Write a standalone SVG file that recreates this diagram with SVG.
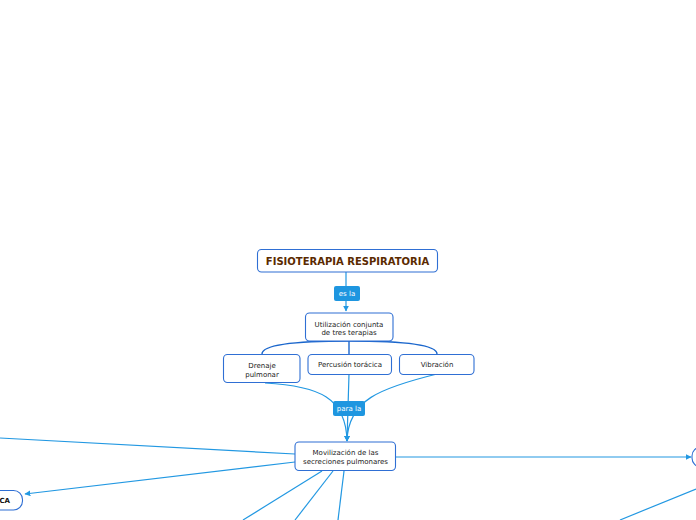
<svg xmlns="http://www.w3.org/2000/svg" width="696" height="520" viewBox="0 0 696 520">
<defs>
<style>
.box{fill:#fff;stroke:#2f6fd4;stroke-width:1.1}
.t{font-family:"DejaVu Sans",Verdana,sans-serif;font-size:7px;fill:#1a1a1a;text-anchor:middle}
.title{font-family:"DejaVu Sans",Verdana,sans-serif;font-size:10px;font-weight:bold;fill:#5a2a00;text-anchor:middle}
.lbl{fill:#1e96e0}
.lt{font-family:"DejaVu Sans",Verdana,sans-serif;font-size:7px;fill:#fff;text-anchor:middle}
.c{fill:none;stroke:#2298e2;stroke-width:1.2}
.b{fill:none;stroke:#1a66cc;stroke-width:1.4}
</style>
<marker id="ar" viewBox="0 0 10 10" refX="9" refY="5" markerWidth="6" markerHeight="6" orient="auto" markerUnits="userSpaceOnUse">
<path d="M0,0 L10,5 L0,10 z" fill="#2298e2"/>
</marker>
</defs>
<rect width="696" height="520" fill="#fff"/>
<g id="connectors">
<path class="c" d="M346,272 L346,311" marker-end="url(#ar)"/>
<path class="b" d="M349,341 C300,341 262,344 262,354"/>
<path class="b" d="M349,341 L349,354"/>
<path class="b" d="M349,341 C398,341 437,344 437,354"/>
<path class="c" d="M265,383 C320,386 346,398 347,441" marker-end="url(#ar)"/>
<path class="c" d="M349,374 L347,441" marker-end="url(#ar)"/>
<path class="c" d="M437,374 C380,388 348,400 347,441" marker-end="url(#ar)"/>
<path class="c" d="M295,454 L0,438"/>
<path class="c" d="M295,462 L25,494" marker-end="url(#ar)"/>
<path class="c" d="M395,457 L691,457" marker-end="url(#ar)"/>
<path class="c" d="M322,471 L243,520"/>
<path class="c" d="M333,471 L295,520"/>
<path class="c" d="M344,471 L338,520"/>
<path class="c" d="M696,489 L620,520"/>
</g>
<g id="lbl-esla">
<rect class="lbl" x="334" y="286" width="26" height="15" rx="2"/>
<text class="lt" x="347" y="295.5">es la</text>
</g>
<g id="lbl-parala">
<rect class="lbl" x="333" y="401" width="32" height="15" rx="2"/>
<text class="lt" x="349" y="410.5">para la</text>
</g>
<g id="n-title">
<rect class="box" x="257.5" y="249.5" width="180" height="22.5" rx="4"/>
<text class="title" x="347.5" y="264.5">FISIOTERAPIA RESPIRATORIA</text>
</g>
<g id="n-utilizacion">
<rect class="box" x="305.5" y="313" width="87.5" height="28" rx="4"/>
<text class="t" x="349" y="326.5">Utilización conjunta</text>
<text class="t" x="349" y="334.5">de tres terapias</text>
</g>
<g id="n-drenaje">
<rect class="box" x="223.5" y="354.5" width="76.5" height="28" rx="4"/>
<text class="t" x="262" y="367.5">Drenaje</text>
<text class="t" x="262" y="376.5">pulmonar</text>
</g>
<g id="n-percusion">
<rect class="box" x="308" y="354.5" width="83.5" height="20" rx="4"/>
<text class="t" x="350" y="367">Percusión torácica</text>
</g>
<g id="n-vibracion">
<rect class="box" x="399.5" y="354.5" width="74.5" height="20" rx="4"/>
<text class="t" x="437" y="367">Vibración</text>
</g>
<g id="n-movilizacion">
<rect class="box" x="295" y="442" width="100.5" height="28.5" rx="4"/>
<text class="t" x="345.5" y="455">Movilización de las</text>
<text class="t" x="345.5" y="463.5">secreciones pulmonares</text>
</g>
<g id="n-left">
<rect class="box" x="-60" y="490.5" width="82.5" height="19.5" rx="9"/>
<text class="t" x="10" y="502.5" style="font-weight:bold;text-anchor:end;fill:#111">CA</text>
</g>
<g id="n-right">
<rect class="box" x="692" y="447" width="80" height="20" rx="9"/>
</g>
</svg>
